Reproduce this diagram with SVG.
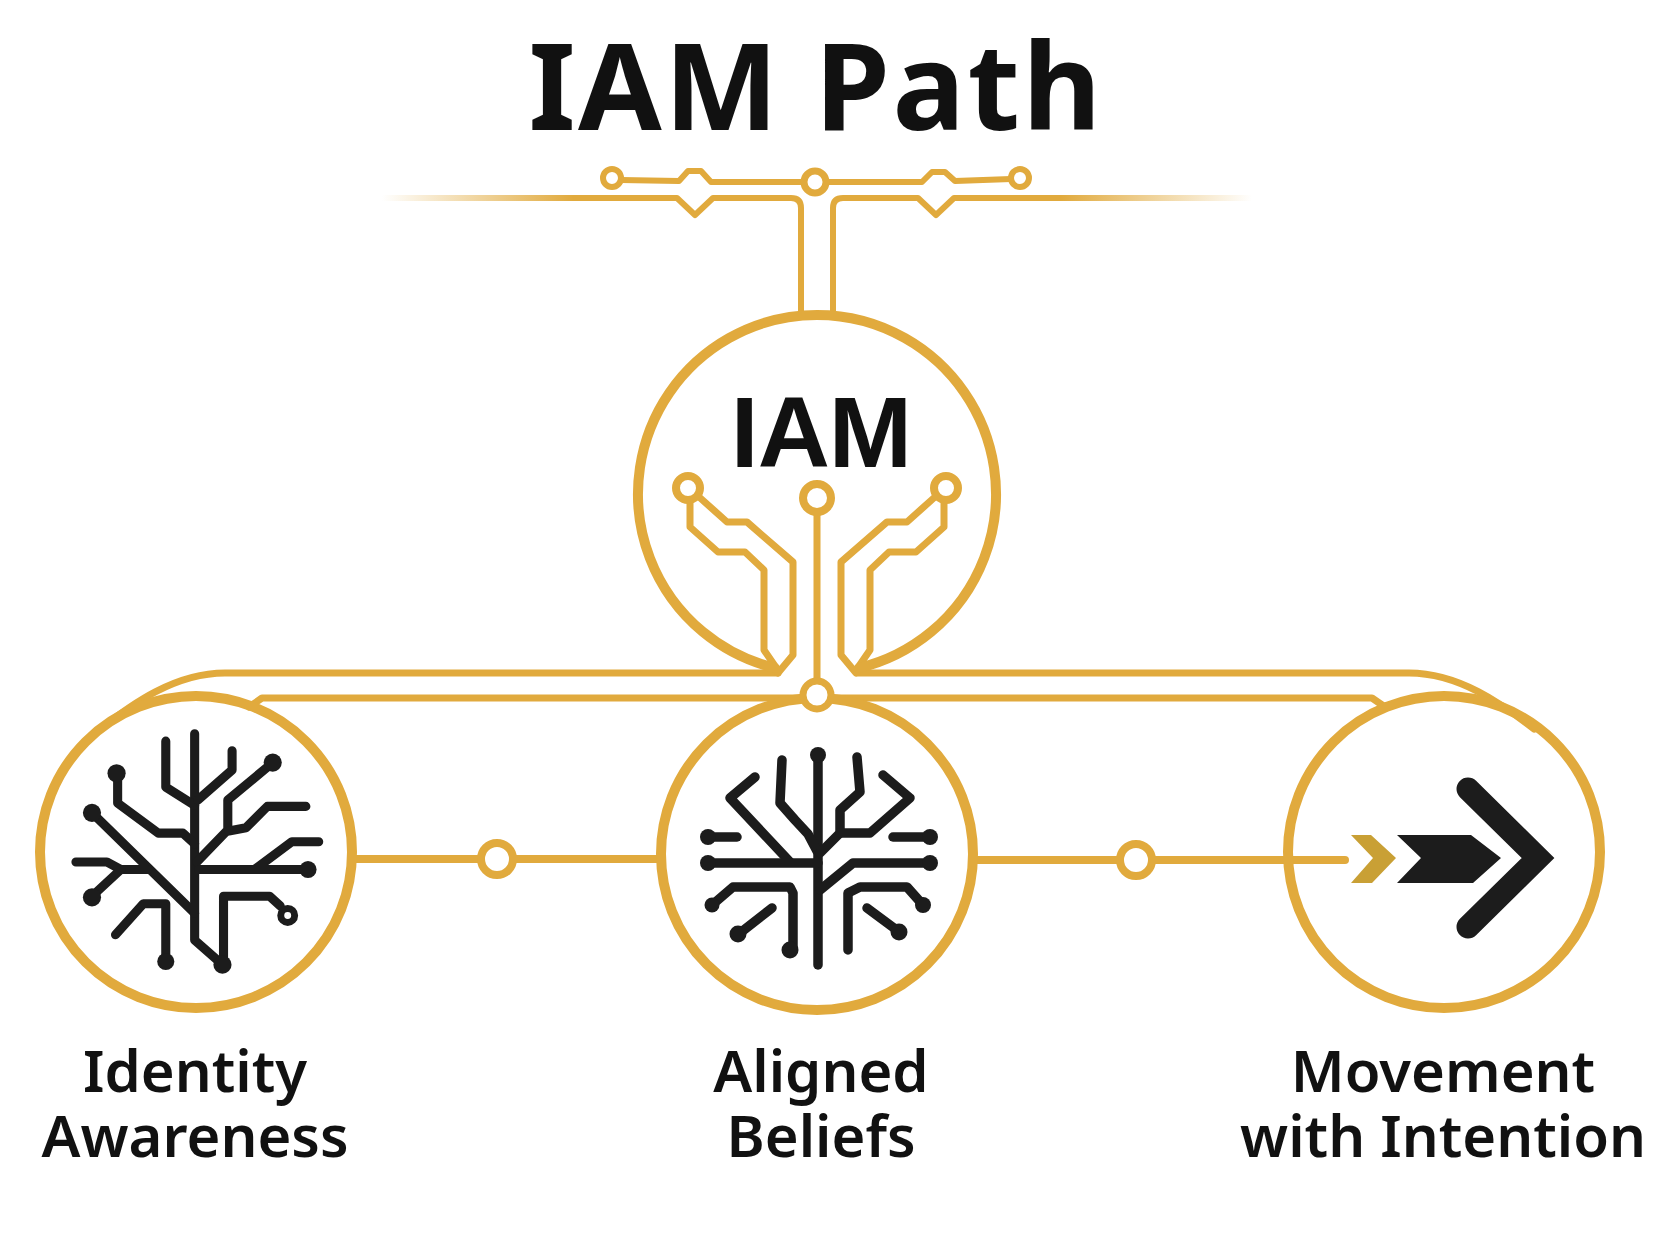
<svg xmlns="http://www.w3.org/2000/svg" width="1677" height="1248" viewBox="0 0 1677 1248">
<style>
.g{fill:none;stroke:#E1AA3D;stroke-linecap:round;stroke-linejoin:round}
.ring{fill:#fff;stroke:#E1AA3D}
.ic{fill:none;stroke:#1c1c1c;stroke-linecap:round;stroke-linejoin:round}
.dot{fill:#1c1c1c}
.t{font-family:"Noto Sans","Open Sans","DejaVu Sans",sans-serif;fill:#111;text-anchor:middle}
</style>
<defs>
<linearGradient id="fade" gradientUnits="userSpaceOnUse" x1="382" y1="0" x2="1252" y2="0">
<stop offset="0" stop-color="#E1AA3D" stop-opacity="0"/>
<stop offset="0.22" stop-color="#E1AA3D" stop-opacity="1"/>
<stop offset="0.78" stop-color="#E1AA3D" stop-opacity="1"/>
<stop offset="1" stop-color="#E1AA3D" stop-opacity="0"/>
</linearGradient>
</defs>
<rect width="1677" height="1248" fill="#fff"/>

<g id="title">
<text class="t" x="816" y="130" font-size="121" font-weight="700" letter-spacing="2.5">IAM Path</text>
</g>

<g id="connectors">
<path d="M382 198 L677 198 L695 215 L713 198 L791 198 Q801 198 801 208 L801 316" fill="none" stroke="url(#fade)" stroke-width="6" stroke-linejoin="round"/>
<path d="M1252 198 L954 198 L936 215 L918 198 L843 198 Q833 198 833 208 L833 316" fill="none" stroke="url(#fade)" stroke-width="6" stroke-linejoin="round"/>
<path class="g" stroke-width="6" d="M621 180 L679 181 L688 171 L701 171 L711 182 L802 182"/>
<path class="g" stroke-width="6" d="M828 182 L922 182 L932 172 L945 172 L955 181 L1011 179"/>
<circle class="ring" cx="612" cy="178" r="9" stroke-width="6"/>
<circle class="ring" cx="815" cy="182" r="11" stroke-width="7"/>
<circle class="ring" cx="1020" cy="178" r="9" stroke-width="6"/>

<path class="g" stroke-width="7" d="M100 729 C132 704 175 673 225 673 L778 673"/>
<path class="g" stroke-width="7" d="M1534 729 C1502 704 1459 673 1409 673 L858 673"/>
<path class="g" stroke-width="7" d="M249 707 L262 698 L805 698"/>
<path class="g" stroke-width="7" d="M1385 707 L1372 698 L829 698"/>

<path class="g" stroke-width="7" d="M690 501 L690 527 L718 552 L745 552 L764 570 L764 650 L775 666"/>
<path class="g" stroke-width="7" d="M698 496 L727 522 L747 522 L793 562 L793 655 L778 673"/>
<path class="g" stroke-width="7" d="M944 501 L944 527 L916 552 L889 552 L870 570 L870 650 L859 666"/>
<path class="g" stroke-width="7" d="M936 496 L907 522 L887 522 L841 562 L841 655 L856 673"/>
<path class="g" stroke-width="7" d="M817 512 L817 682"/>

<path class="g" stroke-width="8" d="M352 859 L661 859"/>
<path class="g" stroke-width="8" d="M973 860 L1345 860"/>
<circle class="ring" cx="497" cy="859" r="16" stroke-width="8"/>
<circle class="ring" cx="1136" cy="860" r="16" stroke-width="8"/>
</g>

<g id="node-iam">
<path class="g" stroke-width="10" d="M775 668 A179 179 0 1 1 859 668"/>
<text x="821" y="467" font-family="'Liberation Sans',Arial,sans-serif" font-weight="700" font-size="100" fill="#111" text-anchor="middle" letter-spacing="-1">IAM</text>
<circle class="ring" cx="688" cy="488" r="12" stroke-width="8"/>
<circle class="ring" cx="946" cy="488" r="12" stroke-width="8"/>
<circle class="ring" cx="817" cy="498" r="14" stroke-width="8"/>
</g>

<g id="node-identity">
<circle cx="196" cy="852" r="156" fill="none" stroke="#E1AA3D" stroke-width="10"/>
<g transform="scale(1.0695)">
<g class="ic" stroke-width="8.5">
<path d="M182 686 L182 879 L207 901"/>
<path d="M155 693 L155 736 L182 753"/>
<path d="M217 702 L217 720 L185 748"/>
<path d="M110 726 L110 751 L148 779 L171 779 L182 789"/>
<path d="M254 714 L213 748 L213 776 L184 806"/>
<path d="M286 754 L250 754 L230 774 L214 777"/>
<path d="M298 787 L273 787 L238 813"/>
<path d="M186 813 L288 813"/>
<path d="M86 760 L182 854"/>
<path d="M71 806 L100 806 L113 813 L138 813"/>
<path d="M86 838 L113 813"/>
<path d="M108 874 L134 845 L155 845 L155 898"/>
<path d="M209 898 L209 838 L252 838 L262 847"/>
</g>
<circle class="dot" cx="208" cy="902" r="8.5"/>
<circle class="dot" cx="155" cy="899" r="8"/>
<circle class="dot" cx="109" cy="723" r="8.5"/>
<circle class="dot" cx="255" cy="713" r="8.5"/>
<circle class="dot" cx="288" cy="813" r="8"/>
<circle class="dot" cx="86" cy="760" r="8.5"/>
<circle class="dot" cx="86" cy="839" r="8.5"/>
<circle cx="269" cy="856" r="6.5" fill="#fff" stroke="#1c1c1c" stroke-width="6.5"/>
</g>
</g>

<g id="node-aligned">
<circle cx="817" cy="854" r="156" fill="none" stroke="#E1AA3D" stroke-width="10"/>
<circle class="ring" cx="817" cy="695" r="14" stroke-width="7"/>
<g class="ic" stroke-width="9.5">
<path d="M818 755 L818 965"/>
<path d="M782 760 L780 803 L795 820 L808 834 L817 851"/>
<path d="M857 757 L860 792 L840 810 L840 833 L820 853"/>
<path d="M840 833 L870 833 L910 798 L883 775"/>
<path d="M755 777 L730 798 L790 862"/>
<path d="M708 837 L737 837"/>
<path d="M708 863 L818 863"/>
<path d="M893 837 L930 837"/>
<path d="M820 890 L853 863 L930 863"/>
<path d="M712 905 L733 887 L790 887 L793 893 L793 947"/>
<path d="M772 908 L740 933"/>
<path d="M848 950 L848 893 L860 887 L907 887 L923 905"/>
<path d="M867 908 L898 931"/>
</g>
<circle class="dot" cx="818" cy="755" r="8"/>
<circle class="dot" cx="708" cy="837" r="8"/>
<circle class="dot" cx="708" cy="863" r="8"/>
<circle class="dot" cx="930" cy="837" r="8"/>
<circle class="dot" cx="930" cy="863" r="8"/>
<circle class="dot" cx="712" cy="905" r="7.5"/>
<circle class="dot" cx="790" cy="950" r="8.5"/>
<circle class="dot" cx="738" cy="934" r="8.5"/>
<circle class="dot" cx="923" cy="905" r="8"/>
<circle class="dot" cx="899" cy="932" r="8.5"/>
</g>

<g id="node-movement">
<circle cx="1444" cy="852" r="156" fill="none" stroke="#E1AA3D" stroke-width="10"/>
<path d="M1351 835 L1371 835 L1396 858 L1372 883 L1351 883 L1373 858 Z" fill="#C9A035"/>
<path d="M1397 835 L1471 835 L1501 858 L1473 883 L1397 883 L1421 858 Z" fill="#1c1c1c"/>
<path d="M1468 789 L1538 858 L1468 927" fill="none" stroke="#1c1c1c" stroke-width="23" stroke-linecap="round" stroke-linejoin="miter"/>
</g>

<g id="labels" font-size="58" font-weight="600">
<text class="t" x="195" y="1092">Identity<tspan x="195" y="1157">Awareness</tspan></text>
<text class="t" x="821" y="1092">Aligned<tspan x="821" y="1157">Beliefs</tspan></text>
<text class="t" x="1443" y="1092">Movement<tspan x="1443" y="1157">with Intention</tspan></text>
</g>
</svg>
